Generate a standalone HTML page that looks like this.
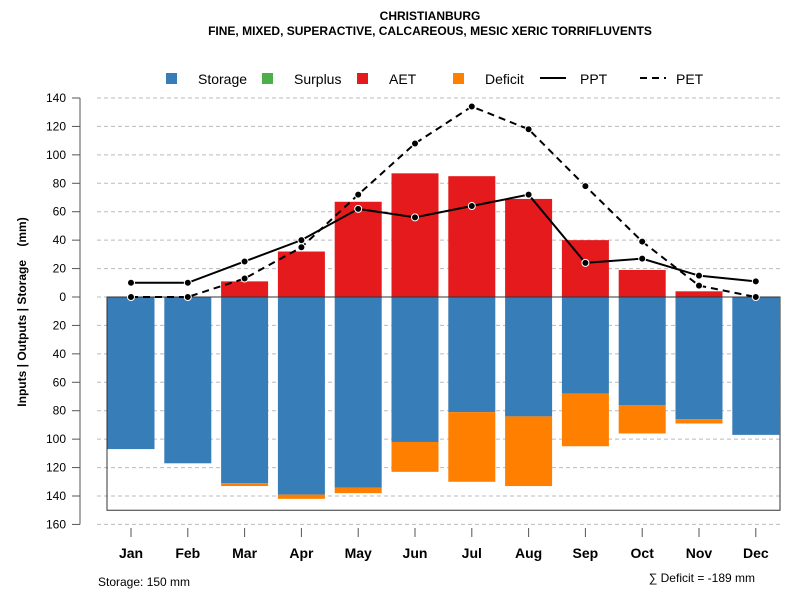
<!DOCTYPE html>
<html><head><meta charset="utf-8"><style>
body{margin:0;background:#fff}
svg{font-family:"Liberation Sans",sans-serif}
</style></head><body>
<svg id="c" width="800" height="600">
<text x="430" y="20" text-anchor="middle" font-size="12" font-weight="bold">CHRISTIANBURG</text>
<text x="430" y="35" text-anchor="middle" font-size="12" font-weight="bold">FINE, MIXED, SUPERACTIVE, CALCAREOUS, MESIC XERIC TORRIFLUVENTS</text>
<g>
<rect x="166" y="73" width="11" height="11" fill="#377eb8"/>
<text x="198" y="84" font-size="14">Storage</text>
<rect x="262" y="73" width="11" height="11" fill="#4daf4a"/>
<text x="294" y="84" font-size="14">Surplus</text>
<rect x="357" y="73" width="11" height="11" fill="#e41a1c"/>
<text x="389" y="84" font-size="14">AET</text>
<rect x="453" y="73" width="11" height="11" fill="#ff7f00"/>
<text x="485" y="84" font-size="14">Deficit</text>
<line x1="540" y1="78" x2="566" y2="78" stroke="#000" stroke-width="2"/>
<text x="580" y="84" font-size="14">PPT</text>
<line x1="640" y1="78" x2="666" y2="78" stroke="#000" stroke-width="2" stroke-dasharray="7,5"/>
<text x="676" y="84" font-size="14">PET</text>
</g>
<g id="plot"></g>
<text x="26" y="312" transform="rotate(-90 26 312)" text-anchor="middle" font-size="12" font-weight="bold" style="white-space:pre">Inputs | Outputs | Storage    (mm)</text>
<text x="98" y="586" font-size="12">Storage: 150 mm</text>
<text x="755" y="582" text-anchor="end" font-size="12">∑ Deficit = -189 mm</text>
</svg>
<script>
const months=["Jan","Feb","Mar","Apr","May","Jun","Jul","Aug","Sep","Oct","Nov","Dec"];
const storage=[107,117,131,139,134,102,81,84,68,76,86,97];
const deficit=[0,0,2,3,4,21,49,49,37,20,3,0];
const aet=[0,0,11,32,67,87,85,69,40,19,4,0];
const ppt=[10,10,25,40,62,56,64,72,24,27,15,11];
const pet=[0,0,13,35,72,108,134,118,78,39,8,0];
const yTicks=[140,120,100,80,60,40,20,0,-20,-40,-60,-80,-100,-120,-140,-160];
const NS="http://www.w3.org/2000/svg";
const g=document.getElementById('plot');
const y=v=>297-v*1.4214;
const x=i=>131+i*56.8;
const bw=47;
function mk(t,a){const e=document.createElementNS(NS,t);for(const k in a)e.setAttribute(k,a[k]);g.appendChild(e);return e;}
yTicks.forEach(t=>{
 const l=mk('line',{x1:97,x2:780,y1:y(t),y2:y(t),stroke:'#bbb','stroke-dasharray':'4,3'});
 
 
 const tk=mk('line',{x1:72,x2:80,y1:y(t),y2:y(t),stroke:'#555'});
 
 
 const tx=mk('text',{x:66,y:y(t)+4,'text-anchor':'end','font-size':12});
 tx.textContent=Math.abs(t);
 
 
});
const ax=mk('line',{x1:80,x2:80,y1:y(140),y2:y(-160),stroke:'#555'});


months.forEach((m,i)=>{
 const r1=mk('rect',{x:x(i)-bw/2,y:y(0),width:bw,height:y(-storage[i])-y(0),fill:'#377eb8'});
 
 
 if(deficit[i]>0){const r2=mk('rect',{x:x(i)-bw/2,y:y(-storage[i]),width:bw,height:y(-storage[i]-deficit[i])-y(-storage[i]),fill:'#ff7f00'});
 
 }
 if(aet[i]>0){const r3=mk('rect',{x:x(i)-bw/2,y:y(aet[i]),width:bw,height:y(0)-y(aet[i]),fill:'#e41a1c'});
 
 }
 const tk=mk('line',{x1:x(i),x2:x(i),y1:528,y2:537,stroke:'#555'});
 
 
 const tx=mk('text',{x:x(i),y:558,'text-anchor':'middle','font-size':14,'font-weight':'bold'});
 tx.textContent=m;
 
 
});
const box=mk('path',{d:`M107 ${y(0)} H780 V${y(-150)} H107 Z`,fill:'none',stroke:'#333','stroke-width':1});


function series(arr,name,dash){
 const p=mk('polyline',{points:arr.map((v,i)=>x(i)+','+y(v)).join(' '),fill:'none',stroke:'#000','stroke-width':2,'stroke-dasharray':dash});
 
 
 arr.forEach((v,i)=>{const c=mk('circle',{cx:x(i),cy:y(v),r:3.5,fill:'#000',stroke:'#fff','stroke-width':1});
 
 });
}
series(pet,'pet','7,5');
series(ppt,'ppt','none');
</script>
</body></html>
